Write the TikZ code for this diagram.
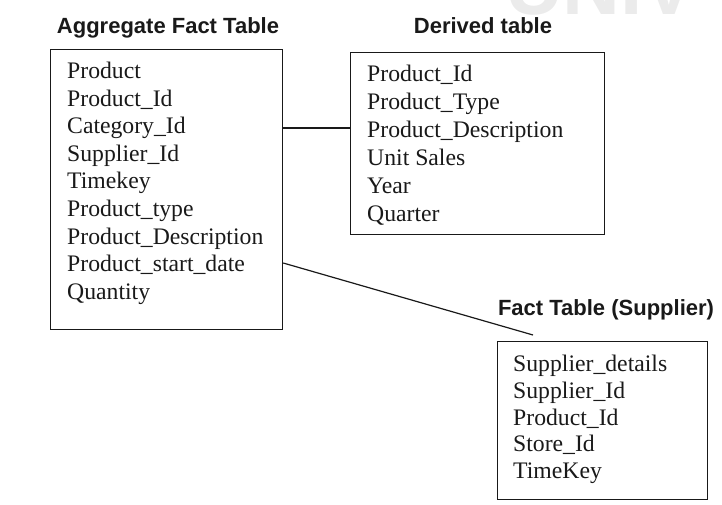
\documentclass[tikz,border=0pt]{standalone}
\usepackage{fontspec}
\setmainfont{Liberation Serif}
\newfontfamily\headfont{Liberation Sans}
\begin{document}
\begin{tikzpicture}[x=1pt,y=-1pt,
  tbl/.style={draw=black!90, line width=1.2pt, rectangle, inner sep=0pt, anchor=north west},
  rows/.style={anchor=base west, inner sep=0pt, align=left, text=black!90,
    font=\fontsize{23.7}{27.6}\selectfont},
  head/.style={anchor=base, inner sep=0pt, text=black!90,
    font=\headfont\bfseries\fontsize{22}{24}\selectfont},
  link/.style={draw=black!90, line width=1.2pt}]
\useasboundingbox (0,0) rectangle (722,505);
\begin{scope}
\clip (0,0) rectangle (722,505);
\node[anchor=base west, inner sep=0pt, text=black!8,
  font=\headfont\bfseries\fontsize{80}{80}\selectfont] (wm) at (505,15) {UNIV};
\end{scope}

% titles
\node[head] (haggr) at (168,34) {Aggregate Fact Table};
\node[head] (hder) at (483,34) {Derived table};
\node[head] (hsup) at (606,315) {Fact Table (Supplier)};

% boxes
\node[tbl, minimum width=232pt, minimum height=280pt] (agg) at (50,49) {};
\node[tbl, minimum width=254pt, minimum height=182pt] (der) at (350,52) {};
\node[tbl, minimum width=210pt, minimum height=158pt] (sup) at (497,341) {};

% contents (base = baseline of the last line)
\node[rows] (aggtxt) at (67,299.3) {Product\\Product\_Id\\Category\_Id\\Supplier\_Id\\Timekey\\Product\_type\\Product\_Description\\Product\_start\_date\\Quantity};
\node[rows, font=\fontsize{23.7}{28}\selectfont] (dertxt) at (367,221.7) {Product\_Id\\Product\_Type\\Product\_Description\\Unit Sales\\Year\\Quarter};
\node[rows, font=\fontsize{23.7}{26.7}\selectfont] (suptxt) at (513,478.5) {Supplier\_details\\Supplier\_Id\\Product\_Id\\Store\_Id\\TimeKey};

% connectors
\coordinate (c1) at (0,128);
\coordinate (c2) at (0,263);
\coordinate (e2) at (533,335);
\draw[link] (c1 -| agg.east) -- (c1 -| der.west);
\draw[link] (c2 -| agg.east) -- (e2);
\end{tikzpicture}
\end{document}
